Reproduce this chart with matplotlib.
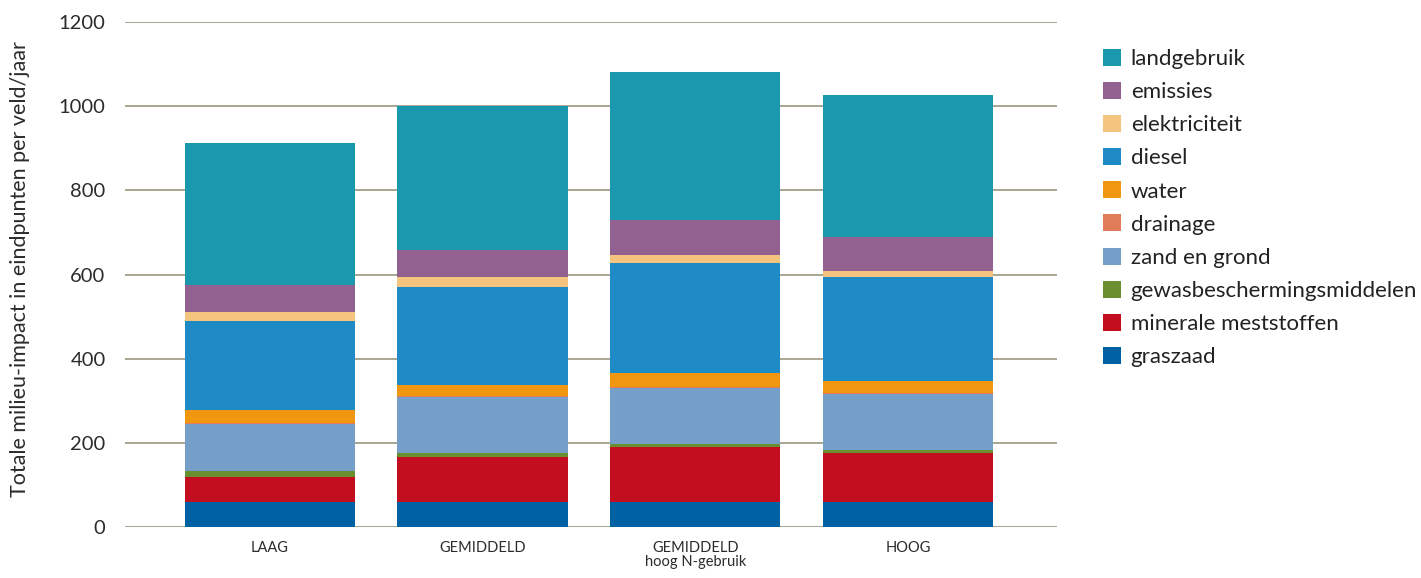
import matplotlib
matplotlib.use("Agg")
import matplotlib.pyplot as plt
import numpy as np
from matplotlib.patches import Patch

categories = ["LAAG", "GEMIDDELD", "GEMIDDELD\nhoog N-gebruik", "HOOG"]
series_names = ["graszaad", "minerale meststoffen", "gewasbeschermingsmiddelen",
                "zand en grond", "drainage", "water", "diesel",
                "elektriciteit", "emissies", "landgebruik"]
graszaad = [60, 60, 60, 60]
minerale = [60, 107, 131, 115]
gewas = [13, 10, 7, 8]
zand = [112, 132, 132, 134]
drainage = [2, 2, 2, 2]
water = [30, 26, 33, 29]
diesel = [213, 234, 262, 245]
elektriciteit = [20, 22, 19, 16]
emissies = [64, 66, 83, 80]
landgebruik = [338, 341, 352, 337]
yticks = [0, 200, 400, 600, 800, 1000, 1200]

series = [graszaad, minerale, gewas, zand, drainage, water, diesel,
          elektriciteit, emissies, landgebruik]
colors = ["#0062A3", "#C20E1E", "#6A8F2E", "#759EC8", "#E07C5A", "#F0970F",
          "#1E8AC6", "#F5C57F", "#93618F", "#1A98AE"]

plt.rcParams['font.family'] = ['Lato', 'DejaVu Sans']
fig = plt.figure(figsize=(14.21, 5.78), dpi=100)
ax = fig.add_axes([125/1421, 1 - 527/578, (1057-125)/1421, (527-22)/578])

x = np.arange(len(categories))
bottom = np.zeros(len(categories))
for vals, c in zip(series, colors):
    ax.bar(x, vals, bottom=bottom, width=0.8, color=c, zorder=3, linewidth=0)
    bottom += np.array(vals)

ax.set_ylim(0, 1200)
ax.set_xlim(-0.68, 3.70)
ax.set_yticks(yticks)
ax.set_yticklabels([str(v) for v in yticks], fontsize=14.5, color="#2b2b2b")
ax.yaxis.grid(True, color="#9A9680", linewidth=1.2, zorder=0)
ax.tick_params(axis='y', length=0, pad=14)
ax.tick_params(axis='x', length=0, pad=10)
ax.set_xticks(x)
ax.set_xticklabels(categories, fontsize=10.5, color="#2b2b2b", linespacing=1.0)
for s in ax.spines.values():
    s.set_visible(False)
ax.set_ylabel("Totale milieu-impact in eindpunten per veld/jaar", fontsize=15.5,
              color="#2b2b2b")
ax.yaxis.set_label_coords(-0.102, 0.51)

handles = [Patch(facecolor=c, edgecolor='none', label=n)
           for c, n in zip(colors, series_names)][::-1]
fig.legend(handles=handles, loc='upper left', bbox_to_anchor=(1094/1421, 1 - 40/578),
           frameon=False, fontsize=16, handlelength=0.8, handleheight=0.8,
           handletextpad=0.45, labelspacing=0.58, labelcolor="#222222",
           borderaxespad=0)

fig.savefig("out.png", dpi=100)
